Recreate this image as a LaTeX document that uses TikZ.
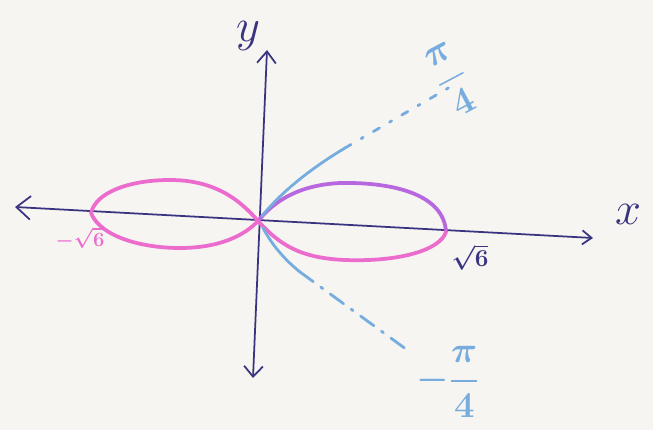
\documentclass[tikz,border=0pt]{standalone}
\usepackage{amsmath}
\usetikzlibrary{arrows.meta}
\definecolor{bg}{RGB}{246,245,241}
\definecolor{axisc}{RGB}{58,52,128}
\definecolor{pinkc}{RGB}{236,108,206}
\definecolor{purplec}{RGB}{184,104,222}
\definecolor{bluec}{RGB}{118,172,222}
\begin{document}
\begin{tikzpicture}[x=0.03cm,y=-0.03cm,
  axisline/.style={axisc, line width=1.5pt},
  lobe/.style={line width=3.2pt, line cap=round},
  guide/.style={bluec, line width=2.4pt, line cap=round},
  lbl/.style={inner sep=0pt}]
\fill[bg] (0,0) rectangle (653,430);
\useasboundingbox (0,0) rectangle (653,430);
% coordinates
\coordinate (O) at (258,221);
\coordinate (xl) at (15,207);
\coordinate (xr) at (593,238);
\coordinate (yt) at (267,50);
\coordinate (yb) at (253,378);
\coordinate (L) at (91,213);
\coordinate (R) at (446,232);
\coordinate (ua) at (262,216);
\coordinate (ub) at (345,148);
\coordinate (uc) at (450,87);
\coordinate (la) at (263,228);
\coordinate (lb) at (300,272);
\coordinate (lc) at (410,352);
% axes
\draw[axisline, {Straight Barb[length=12pt,width=20pt,line width=1.5pt]}-{Straight Barb[length=8pt,width=12pt,line width=1.5pt]}] (xl) -- (xr);
\draw[axisline, {Straight Barb[length=9pt,width=16pt,line width=1.5pt]}-{Straight Barb[length=10pt,width=16pt,line width=1.5pt]}] (yb) -- (yt);
% lemniscate
\draw[lobe, purplec] (O) .. controls (275,200) and (300,185) .. (340,183)
   .. controls (395,182) and (444,195) .. (R);
\draw[lobe, pinkc] (O) .. controls (280,245) and (300,258) .. (345,260)
   .. controls (400,262) and (440,250) .. (R);
\draw[lobe, pinkc] (L) .. controls (96,192) and (130,180) .. (170,180)
   .. controls (215,180) and (240,200) .. (O);
\draw[lobe, pinkc] (L) .. controls (100,236) and (140,248) .. (180,248)
   .. controls (220,248) and (245,235) .. (O);
% blue guides
\draw[guide] (ua) .. controls (278,196) and (305,172) .. (ub);
\draw[guide, dash pattern=on 6pt off 10pt on 2pt off 10pt] (ub) -- (uc);
\draw[guide] (la) .. controls (272,245) and (285,260) .. (lb);
\draw[guide, dash pattern=on 14pt off 8pt on 2pt off 8pt] (lb) -- (lc);
% labels
\node[lbl, text=axisc, font=\Huge, scale=1.6] (ylab) at (248,36) {$y$};
\node[lbl, text=axisc, font=\Huge, scale=1.6] (xlab) at (628,214) {$x$};
\node[lbl, text=axisc, font=\huge] (r6) at (470,257) {$\boldsymbol{\sqrt{6}}$};
\node[lbl, text=pinkc, font=\LARGE] (l6) at (80,238) {$\boldsymbol{-\sqrt{6}}$};
\node[lbl, text=bluec, rotate=28, font=\Huge, scale=1.3] (p4) at (452,80) {$\boldsymbol{\dfrac{\pi}{4}}$};
\node[lbl, text=bluec, font=\Huge, scale=1.25] (m4) at (448,382) {$\boldsymbol{-\dfrac{\pi}{4}}$};
\end{tikzpicture}
\end{document}
